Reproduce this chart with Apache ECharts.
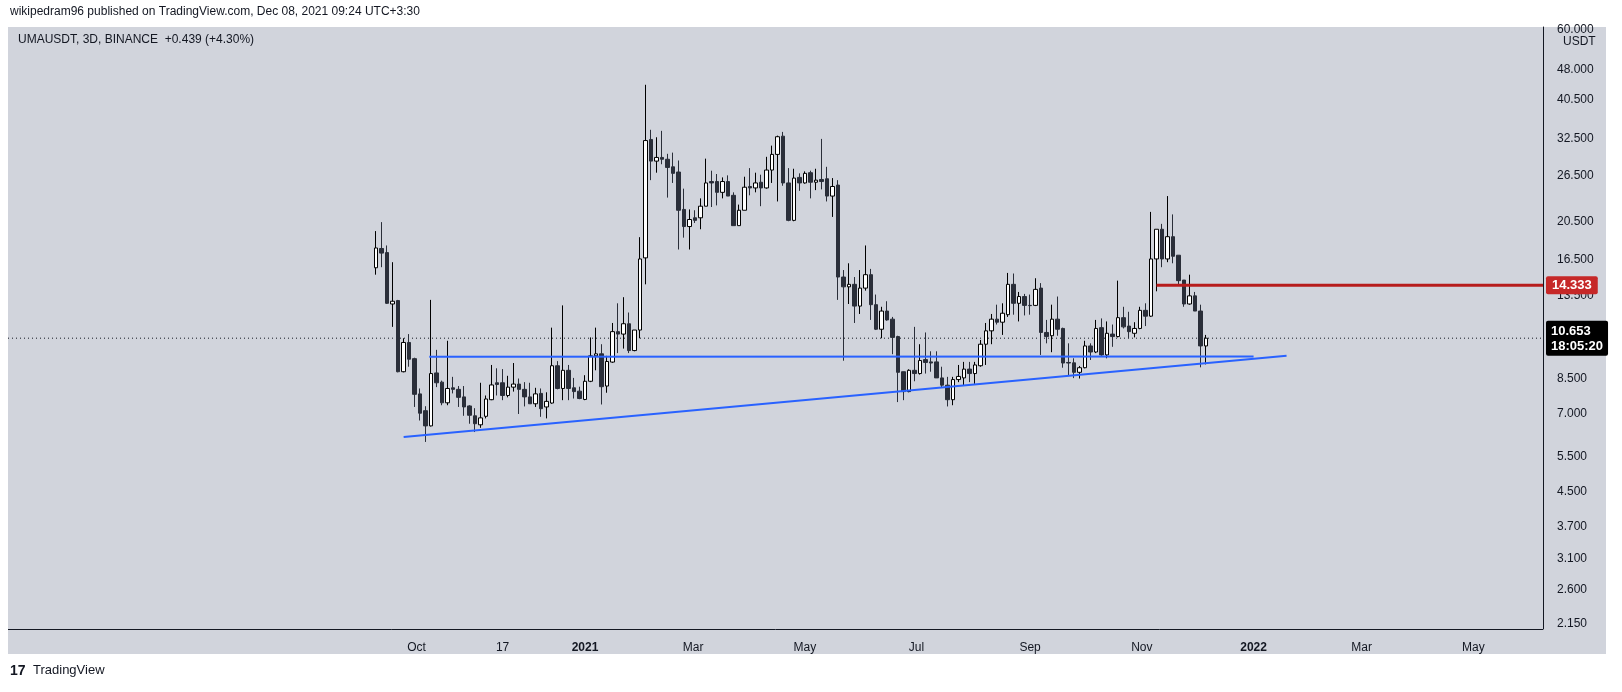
<!DOCTYPE html>
<html>
<head>
<meta charset="utf-8">
<script src="https://cdn.jsdelivr.net/npm/echarts@6/dist/echarts.min.js"></script>
<style>
  html, body { margin: 0; padding: 0; background: #fff; }
  #chart { width: 1622px; height: 692px; }
</style>
</head>
<body>
<div id="chart"></div>
<script>
// 3D candles, UMAUSDT, first candle 2020-09-09
const firstCandle = Date.UTC(2020, 8, 9);
const step = 3 * 86400000;

// [open, close, low, high]
const candles = [
  [15.8,17.65,15.2,19.4],[17.6,17.15,15.85,20.4],[17.2,12.95,12.9,17.9],[12.9,13.1,11.35,16.3],
  [13.15,8.83,8.8,13.2],[8.83,10.4,8.8,10.65],[10.4,9.47,9.08,10.9],[9.5,7.78,7.25,9.55],
  [7.8,7.0,6.72,8.04],[7.1,6.52,5.96,7.28],[6.52,8.74,6.5,13.2],[8.77,8.3,8.1,9.98],
  [8.33,7.42,7.32,8.4],[7.42,8.04,7.32,10.5],[8.07,8.0,7.82,8.58],[8.0,7.65,7.25,8.15],
  [7.67,7.25,6.9,8.15],[7.29,6.92,6.6,7.32],[6.9,6.6,6.3,7.2],[6.56,6.82,6.45,8.3],
  [6.88,7.58,6.8,7.73],[7.55,8.2,7.53,9.17],[8.3,8.22,7.73,9.0],[8.3,7.73,7.53,8.96],
  [7.73,8.1,7.65,8.63],[8.1,8.24,7.9,9.27],[8.24,8.0,6.97,8.5],[8.0,7.67,7.27,8.33],
  [7.67,7.38,7.38,8.3],[7.38,7.8,7.25,8.07],[7.82,7.18,6.86,8.04],[7.25,7.48,6.8,7.87],
  [7.41,9.13,7.38,11.3],[9.13,8.04,8.0,9.37],[8.04,8.9,7.53,12.8],[8.9,8.04,7.53,9.17],
  [8.07,7.9,7.6,8.53],[7.92,7.6,7.57,8.12],[7.56,8.37,7.53,8.66],[8.37,9.65,8.33,10.7],
  [9.65,9.76,8.9,11.3],[9.76,8.12,7.35,10.3],[8.15,9.35,7.85,9.65],[9.32,11.05,9.28,11.6],
  [11.05,10.9,9.8,12.95],[10.9,11.55,10.05,13.4],[11.55,9.94,9.8,12.3],[9.94,11.15,9.9,11.15],
  [11.15,16.6,10.65,18.75],[16.7,32.2,14.4,44.0],[32.4,28.7,25.8,34.2],[28.7,29.3,26.9,32.8],
  [29.3,29.0,28.2,34.0],[29.0,27.7,23.4,29.9],[27.8,26.8,25.4,30.1],[27.0,21.8,17.5,28.8],
  [21.9,19.9,18.7,24.6],[19.9,20.7,17.5,21.9],[20.9,20.6,20.3,21.8],[20.9,22.3,19.6,23.3],
  [22.3,25.4,22.3,29.1],[25.6,25.4,22.2,27.2],[25.6,24.1,22.4,26.7],[24.1,25.6,23.3,26.2],
  [25.6,23.6,23.6,26.5],[23.7,20.0,20.0,24.1],[20.0,21.8,20.0,22.5],[21.8,24.8,21.8,26.3],
  [24.9,24.7,23.7,27.6],[24.7,25.4,24.1,26.9],[25.5,24.7,22.3,26.6],[24.7,27.3,24.6,29.4],
  [27.3,29.8,25.4,31.3],[29.8,32.9,22.9,33.1],[33.0,25.4,25.0,33.8],[25.4,20.6,20.5,27.6],
  [20.6,26.1,20.5,27.5],[26.2,25.4,24.3,26.8],[25.4,26.8,25.3,27.1],[26.9,25.5,23.3,27.2],
  [25.5,25.8,24.4,27.5],[25.9,25.6,24.5,32.5],[26.0,23.6,22.9,27.8],[23.6,24.9,21.0,26.1],
  [25.1,15.0,13.2,25.8],[15.0,14.2,9.39,15.6],[14.2,14.4,12.9,16.2],[14.4,12.75,11.6,15.0],
  [12.75,14.1,12.2,15.6],[14.1,15.2,13.9,17.9],[15.2,12.85,11.8,15.7],[12.85,11.2,11.15,13.6],
  [11.2,12.4,10.65,12.7],[12.4,11.8,11.75,13.1],[11.85,10.7,9.74,12.0],[10.75,8.8,7.45,10.8],
  [8.83,7.9,7.53,8.83],[7.9,8.9,7.87,8.95],[8.9,8.74,8.37,11.35],[8.74,9.4,8.69,10.3],
  [9.45,9.3,8.74,11.0],[9.33,9.27,8.83,9.9],[9.33,8.53,8.53,9.9],[8.53,8.19,8.09,9.08],
  [8.19,7.55,7.27,8.58],[7.55,8.45,7.32,8.58],[8.45,8.6,8.33,9.17],[8.53,8.96,8.19,9.33],
  [8.96,8.74,8.33,9.33],[8.74,9.17,8.25,9.33],[9.13,10.3,9.08,10.55],[10.3,11.1,9.17,11.6],
  [11.1,11.85,10.3,12.2],[11.85,11.65,11.5,12.85],[11.65,12.25,10.85,12.95],[12.15,14.4,12.0,15.35],
  [14.4,12.95,12.15,15.3],[12.95,13.45,11.7,13.8],[13.45,12.8,12.1,13.65],[12.8,12.78,12.15,13.6],
  [12.8,14.0,12.75,14.9],[14.1,11.0,9.7,14.5],[11.0,10.75,10.35,11.8],[10.8,11.85,9.85,12.85],
  [11.85,11.2,10.8,13.45],[11.25,9.27,9.03,11.3],[9.3,9.27,8.62,10.35],[9.28,8.8,8.52,9.52],
  [8.8,9.03,8.5,9.12],[9.03,10.2,9.0,10.5],[10.2,9.86,9.43,10.35],[9.86,11.25,9.8,11.8],
  [11.3,9.7,9.65,11.9],[9.7,10.95,9.52,11.7],[10.9,10.75,10.15,11.5],[10.75,11.95,10.7,14.7],
  [11.95,11.35,11.25,12.7],[11.4,11.05,10.65,12.35],[10.95,11.25,10.7,11.65],[11.25,12.45,11.2,12.7],
  [12.45,12.05,11.4,12.95],[12.05,16.6,12.0,21.6],[16.6,19.6,13.85,19.6],[19.6,16.6,15.85,20.2],
  [16.6,18.8,16.3,23.6],[18.8,16.85,16.2,21.3],[16.95,14.7,14.35,16.95],[14.75,12.9,12.7,14.75],
  [12.9,13.5,12.85,15.2],[13.5,12.4,12.4,13.8],[12.4,10.2,9.05,12.85],[10.2,10.653,9.2,10.85]
];

const priceTicks = [60, 48, 40.5, 32.5, 26.5, 20.5, 16.5, 13.5, 8.5, 7, 5.5, 4.5, 3.7, 3.1, 2.6, 2.15];
const timeTicks = [
  ['2020-10-01', 'Oct'], ['2020-11-17', '17'], ['2021-01-01', '2021'], ['2021-03-01', 'Mar'],
  ['2021-05-01', 'May'], ['2021-07-01', 'Jul'], ['2021-09-01', 'Sep'], ['2021-11-01', 'Nov'],
  ['2022-01-01', '2022'], ['2022-03-01', 'Mar'], ['2022-05-01', 'May']
];

// drawn lines
const flatLine = [['2020-10-08', 9.6], ['2022-01-01', 9.62]];
const riseLine = [['2020-09-24', 6.13], ['2022-01-19', 9.66]];
const resistance = 14.333;
const lastPrice = 10.653;
const countdown = '18:05:20';

const xMin = Date.UTC(2020, 1, 21);
const xMax = Date.UTC(2022, 5, 8);
const tickMap = {};
timeTicks.forEach(t => { tickMap[Date.parse(t[0])] = t[1]; });

const candleData = candles.map((c, i) => [firstCandle + i * step].concat(c));
const resStart = firstCandle + 142 * step;

const FONT = '"Liberation Sans", Arial, sans-serif';
let chart = echarts.init(document.getElementById('chart'));
let option = {
  backgroundColor: '#ffffff',
  animation: false,
  textStyle: { fontFamily: FONT },
  graphic: [
    { type: 'rect', z: -10, shape: { x: 8, y: 27, width: 1598, height: 627 }, style: { fill: '#d1d4dc' } },
    { type: 'text', left: 10, top: 6, style: { text: 'wikipedram96 published on TradingView.com, Dec 08, 2021 09:24 UTC+3:30', fill: '#131722', font: '12px ' + FONT } },
    { type: 'text', left: 18, top: 34, style: { text: 'UMAUSDT, 3D, BINANCE  +0.439 (+4.30%)', fill: '#131722', font: '12px ' + FONT } },
    { type: 'text', left: 1563, top: 36, style: { text: 'USDT', fill: '#131722', font: '12px ' + FONT } },
    { type: 'line', shape: { x1: 8, y1: 629.5, x2: 1543, y2: 629.5 }, style: { stroke: '#131722', lineWidth: 1 } },
    { type: 'text', left: 10, top: 664, style: { text: '17', fill: '#131722', font: 'bold 14px ' + FONT } },
    { type: 'text', left: 33, top: 664, style: { text: 'TradingView', fill: '#131722', font: '13px ' + FONT } }
  ],
  grid: { left: 8, right: 79, top: 27, bottom: 63 },
  xAxis: {
    type: 'value', min: xMin, max: xMax, scale: true,
    axisLine: { show: false }, axisTick: { show: false }, splitLine: { show: false },
    axisLabel: {
      customValues: timeTicks.map(t => Date.parse(t[0])),
      margin: 13, color: '#131722', fontSize: 12,
      formatter: v => {
        const s = tickMap[v] || '';
        return /^20/.test(s) ? '{b|' + s + '}' : s;
      },
      rich: { b: { fontWeight: 'bold', fontSize: 12, color: '#131722' } }
    }
  },
  yAxis: {
    type: 'log', logBase: 10, position: 'right', min: 2.092, max: 60.8,
    axisLine: { show: true, lineStyle: { color: '#131722' } },
    axisTick: { show: false }, splitLine: { show: false },
    axisLabel: {
      customValues: priceTicks, margin: 14, color: '#131722', fontSize: 12,
      formatter: v => (+v).toFixed(3)
    }
  },
  series: [
    {
      type: 'candlestick', data: candleData, barWidth: 4,
      encode: { x: 0, y: [1, 2, 3, 4] },
      itemStyle: { color: '#ffffff', color0: '#2a2e39', borderColor: '#000000', borderColor0: '#2a2e39', borderWidth: 1 }
    },
    {
      type: 'line', data: [[xMin, lastPrice], [xMax, lastPrice]], symbol: 'none', z: 1,
      lineStyle: { color: '#131722', width: 1, type: [1, 3] },
      endLabel: {
        show: true, distance: 3, formatter: () => '{a|' + lastPrice.toFixed(3) + '}\n{a|' + countdown + '}',
        backgroundColor: '#000000', padding: [3, 5, 2, 5], borderRadius: 2,
        rich: { a: { color: '#ffffff', fontWeight: 'bold', fontSize: 13, lineHeight: 15 } }
      }
    },
    {
      type: 'line', data: [[resStart, resistance], [xMax, resistance]], symbol: 'none',
      lineStyle: { color: '#b71c1c', width: 3 },
      endLabel: {
        show: true, distance: 3, formatter: () => resistance.toFixed(3),
        backgroundColor: '#c62828', color: '#ffffff', fontWeight: 'bold', fontSize: 13,
        padding: [3, 6, 2, 6], borderRadius: 2
      }
    },
    {
      type: 'line', data: flatLine.map(p => [Date.parse(p[0]), p[1]]), symbol: 'none',
      lineStyle: { color: '#2962ff', width: 2 }
    },
    {
      type: 'line', data: riseLine.map(p => [Date.parse(p[0]), p[1]]), symbol: 'none',
      lineStyle: { color: '#2962ff', width: 2 }
    }
  ]
};
chart.setOption(option);
</script>
</body>
</html>
